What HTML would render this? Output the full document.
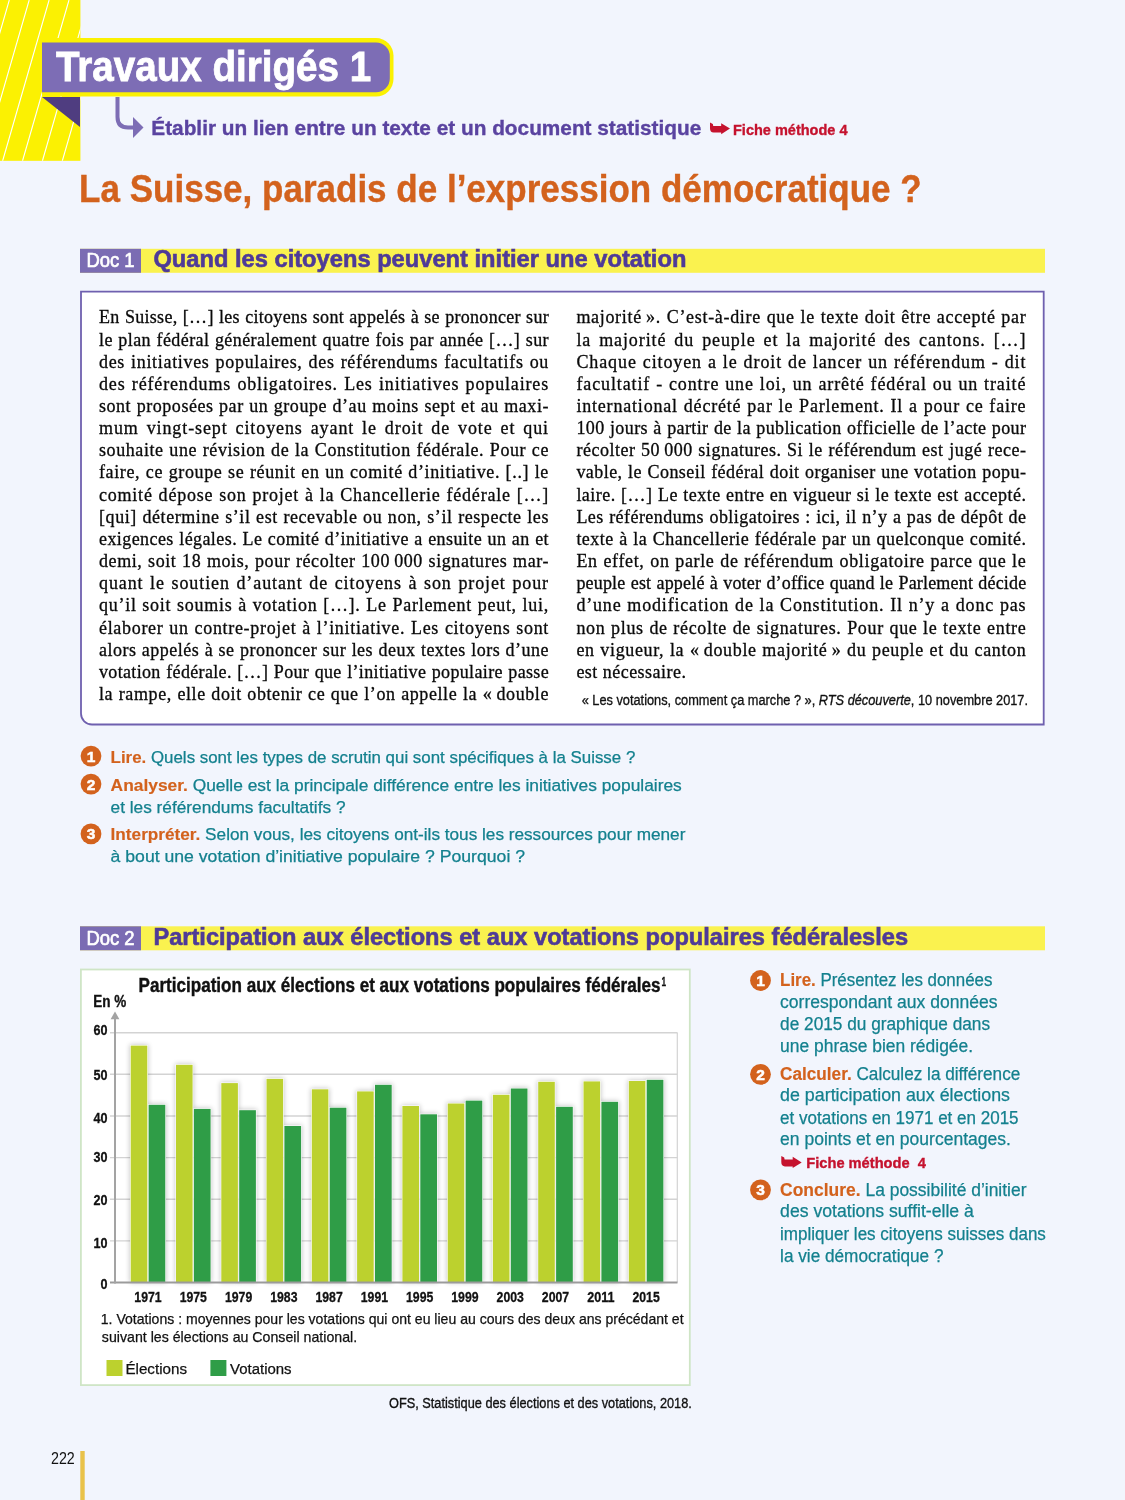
<!DOCTYPE html>
<html lang="fr">
<head>
<meta charset="utf-8">
<title>Travaux dirigés 1 – La Suisse, paradis de l’expression démocratique ?</title>
<style>
*{margin:0;padding:0;box-sizing:border-box}
html,body{width:1125px;height:1500px;overflow:hidden}
body{background:#f2f5fd;position:relative;font-family:"Liberation Sans",sans-serif;color:#111}
svg.page{position:absolute;left:0;top:0}
svg.page{font-family:"Liberation Sans",sans-serif}
.col{position:absolute;top:306.4px;width:450px;font:18px/22.16px "Liberation Serif",serif;color:#0a0a0a;-webkit-text-stroke:0.3px #0a0a0a}
.col div{text-align:justify;text-align-last:justify;white-space:nowrap;height:22.16px}
.col div.l{text-align-last:left}
</style>
</head>
<body>
<svg class="page" width="1125" height="1500" viewBox="0 0 1125 1500">
<rect x="0" y="0" width="80.4" height="160.8" fill="#fbf102"/><clipPath id="yc"><rect x="0" y="0" width="80.4" height="160.8"/></clipPath><g clip-path="url(#yc)" stroke="#fff" stroke-width="1.1"><line x1="-57.1" y1="161" x2="-10.6" y2="0"/><line x1="-37.2" y1="161" x2="9.3" y2="0"/><line x1="-17.3" y1="161" x2="29.2" y2="0"/><line x1="2.6" y1="161" x2="49.1" y2="0"/><line x1="22.5" y1="161" x2="69.0" y2="0"/><line x1="42.4" y1="161" x2="88.9" y2="0"/><line x1="62.3" y1="161" x2="108.8" y2="0"/><line x1="82.2" y1="161" x2="128.7" y2="0"/></g><path d="M42,38.1 H376 A17.5,17.5 0 0 1 393.5,55.6 V79.1 A17.5,17.5 0 0 1 376,96.6 H42 Z" fill="#fbf102"/><path d="M42,42.4 H376 A13.8,13.8 0 0 1 389.8,56.2 V78.4 A13.8,13.8 0 0 1 376,92.2 H42 Z" fill="#7d6db5"/><text x="55.9" y="81.2" font-size="42.2" fill="#fff" font-weight="bold" textLength="315.3" lengthAdjust="spacingAndGlyphs" stroke="#fff" stroke-width="0.8">Travaux dirigés 1</text>
<polygon points="42,97 80,97 80,127" fill="#4f3d80"/><path d="M117.5,97 V117 Q117.5,127.5 128,127.5 H134" stroke="#7d6db5" stroke-width="4" fill="none"/><polygon points="133,117 143.5,127.5 133,138" fill="#7d6db5"/><text x="151.3" y="134.7" font-size="19.8" fill="#5a43a0" font-weight="bold" textLength="550" lengthAdjust="spacingAndGlyphs" stroke="#5a43a0" stroke-width="0.35">Établir un lien entre un texte et un document statistique</text>
<path transform="translate(710,122.4) scale(0.98,0.97)" d="M0,0 L2.9,1.6 L3.3,3.6 H11.4 V0.8 L20.4,6.4 L11.4,12.1 V10.4 H3.7 Q0,10.4 0,6 Z" fill="#c5122e"/><text x="733" y="134.9" font-size="15" fill="#c5122e" font-weight="bold" textLength="114.5" lengthAdjust="spacingAndGlyphs" stroke="#c5122e" stroke-width="0.35">Fiche méthode 4</text>
<text x="79.1" y="201.9" font-size="39" fill="#d3621d" font-weight="bold" textLength="842.6" lengthAdjust="spacingAndGlyphs" stroke="#d3621d" stroke-width="0.4">La Suisse, paradis de l’expression démocratique ?</text>
<rect x="80" y="248.8" width="965" height="24" fill="#faf24f"/><rect x="80" y="248.8" width="61" height="24" fill="#7b6cb3"/><text x="86.4" y="267.3" font-size="21" fill="#fff" textLength="48.2" lengthAdjust="spacingAndGlyphs" stroke="#fff" stroke-width="0.7" stroke-linejoin="round">Doc 1</text>
<text x="153.4" y="266.7" font-size="23.8" fill="#4e3a98" font-weight="bold" textLength="533" lengthAdjust="spacingAndGlyphs" stroke="#4e3a98" stroke-width="0.6">Quand les citoyens peuvent initier une votation</text>
<rect x="80" y="926.3" width="965" height="24" fill="#faf24f"/><rect x="80" y="926.3" width="61" height="24" fill="#7b6cb3"/><text x="86.4" y="945.3000000000001" font-size="21" fill="#fff" textLength="48.2" lengthAdjust="spacingAndGlyphs" stroke="#fff" stroke-width="0.7" stroke-linejoin="round">Doc 2</text>
<text x="153.4" y="944.7" font-size="23.8" fill="#4e3a98" font-weight="bold" textLength="754.7" lengthAdjust="spacingAndGlyphs" stroke="#4e3a98" stroke-width="0.6">Participation aux élections et aux votations populaires fédéralesles</text>
<path d="M81,291.6 H1043.7 V724.5 H92 A11,11 0 0 1 81,713.5 Z" fill="#fff" stroke="#6f60af" stroke-width="1.8"/><circle cx="91" cy="756.1" r="10.4" fill="#d3621d"/><text x="91" y="761.5" font-size="15.5" fill="#fff" font-weight="bold" text-anchor="middle" stroke="#fff" stroke-width="0.5">1</text>
<text x="110.6" y="762.8" font-size="16.8" fill="#13808e" textLength="524.7" lengthAdjust="spacingAndGlyphs" stroke="#13808e" stroke-width="0.25"><tspan fill="#d3621d" stroke="#d3621d" stroke-width="0.15" font-weight="bold">Lire.</tspan> Quels sont les types de scrutin qui sont spécifiques à la Suisse ?</text>
<circle cx="91" cy="784.1" r="10.4" fill="#d3621d"/><text x="91" y="789.5" font-size="15.5" fill="#fff" font-weight="bold" text-anchor="middle" stroke="#fff" stroke-width="0.5">2</text>
<text x="110.6" y="790.5" font-size="16.8" fill="#13808e" textLength="571.2" lengthAdjust="spacingAndGlyphs" stroke="#13808e" stroke-width="0.25"><tspan fill="#d3621d" stroke="#d3621d" stroke-width="0.15" font-weight="bold">Analyser.</tspan> Quelle est la principale différence entre les initiatives populaires</text>
<text x="110.6" y="812.5" font-size="16.8" fill="#13808e" textLength="234.9" lengthAdjust="spacingAndGlyphs" stroke="#13808e" stroke-width="0.25">et les référendums facultatifs ?</text>
<circle cx="91" cy="833.9" r="10.4" fill="#d3621d"/><text x="91" y="839.3" font-size="15.5" fill="#fff" font-weight="bold" text-anchor="middle" stroke="#fff" stroke-width="0.5">3</text>
<text x="110.6" y="840.3" font-size="16.8" fill="#13808e" textLength="574.8" lengthAdjust="spacingAndGlyphs" stroke="#13808e" stroke-width="0.25"><tspan fill="#d3621d" stroke="#d3621d" stroke-width="0.15" font-weight="bold">Interpréter.</tspan> Selon vous, les citoyens ont-ils tous les ressources pour mener</text>
<text x="110.6" y="862.3" font-size="16.8" fill="#13808e" textLength="414.4" lengthAdjust="spacingAndGlyphs" stroke="#13808e" stroke-width="0.25">à bout une votation d’initiative populaire ? Pourquoi ?</text>
<circle cx="760.5" cy="980.5" r="10.4" fill="#d3621d"/><text x="760.5" y="985.9" font-size="15.5" fill="#fff" font-weight="bold" text-anchor="middle" stroke="#fff" stroke-width="0.5">1</text>
<text x="780.1" y="986.2" font-size="17.5" fill="#13808e" textLength="212.3" lengthAdjust="spacingAndGlyphs" stroke="#13808e" stroke-width="0.25"><tspan fill="#d3621d" stroke="#d3621d" stroke-width="0.15" font-weight="bold">Lire.</tspan> Présentez les données</text>
<text x="780.1" y="1007.8" font-size="17.5" fill="#13808e" textLength="217.4" lengthAdjust="spacingAndGlyphs" stroke="#13808e" stroke-width="0.25">correspondant aux données</text>
<text x="780.1" y="1029.7" font-size="17.5" fill="#13808e" textLength="210.0" lengthAdjust="spacingAndGlyphs" stroke="#13808e" stroke-width="0.25">de 2015 du graphique dans</text>
<text x="780.1" y="1051.6" font-size="17.5" fill="#13808e" textLength="193.0" lengthAdjust="spacingAndGlyphs" stroke="#13808e" stroke-width="0.25">une phrase bien rédigée.</text>
<circle cx="760.5" cy="1074.3" r="10.4" fill="#d3621d"/><text x="760.5" y="1079.7" font-size="15.5" fill="#fff" font-weight="bold" text-anchor="middle" stroke="#fff" stroke-width="0.5">2</text>
<text x="780.1" y="1079.5" font-size="17.5" fill="#13808e" textLength="240.2" lengthAdjust="spacingAndGlyphs" stroke="#13808e" stroke-width="0.25"><tspan fill="#d3621d" stroke="#d3621d" stroke-width="0.15" font-weight="bold">Calculer.</tspan> Calculez la différence</text>
<text x="780.1" y="1101.4" font-size="17.5" fill="#13808e" textLength="229.9" lengthAdjust="spacingAndGlyphs" stroke="#13808e" stroke-width="0.25">de participation aux élections</text>
<text x="780.1" y="1123.5" font-size="17.5" fill="#13808e" textLength="238.5" lengthAdjust="spacingAndGlyphs" stroke="#13808e" stroke-width="0.25">et votations en 1971 et en 2015</text>
<text x="780.1" y="1145.4" font-size="17.5" fill="#13808e" textLength="230.8" lengthAdjust="spacingAndGlyphs" stroke="#13808e" stroke-width="0.25">en points et en pourcentages.</text>
<path transform="translate(781.3,1156)" d="M0,0 L2.9,1.6 L3.3,3.6 H11.4 V0.8 L20.4,6.4 L11.4,12.1 V10.4 H3.7 Q0,10.4 0,6 Z" fill="#c5122e"/><text x="806.3" y="1168.2" font-size="15" fill="#c5122e" font-weight="bold" textLength="119.6" lengthAdjust="spacingAndGlyphs" style="white-space:pre" stroke="#c5122e" stroke-width="0.35">Fiche méthode  4</text>
<circle cx="760.5" cy="1189.8" r="10.4" fill="#d3621d"/><text x="760.5" y="1195.2" font-size="15.5" fill="#fff" font-weight="bold" text-anchor="middle" stroke="#fff" stroke-width="0.5">3</text>
<text x="780.1" y="1195.5" font-size="17.5" fill="#13808e" textLength="246.4" lengthAdjust="spacingAndGlyphs" stroke="#13808e" stroke-width="0.25"><tspan fill="#d3621d" stroke="#d3621d" stroke-width="0.15" font-weight="bold">Conclure.</tspan> La possibilité d’initier</text>
<text x="780.1" y="1217.4" font-size="17.5" fill="#13808e" textLength="193.8" lengthAdjust="spacingAndGlyphs" stroke="#13808e" stroke-width="0.25">des votations suffit-elle à</text>
<text x="780.1" y="1240.1" font-size="17.5" fill="#13808e" textLength="265.8" lengthAdjust="spacingAndGlyphs" stroke="#13808e" stroke-width="0.25">impliquer les citoyens suisses dans</text>
<text x="780.1" y="1262" font-size="17.5" fill="#13808e" textLength="163.4" lengthAdjust="spacingAndGlyphs" stroke="#13808e" stroke-width="0.25">la vie démocratique ?</text>
<rect x="80.9" y="969.5" width="608.9" height="415.6" fill="#fff" stroke="#cfe5c6" stroke-width="1.8"/><text x="138.5" y="992.3" font-size="19.5" fill="#111" font-weight="bold" textLength="522" lengthAdjust="spacingAndGlyphs" stroke="#111" stroke-width="0.4">Participation aux élections et aux votations populaires fédérales</text>
<text x="661.6" y="986.3" font-size="13" fill="#111" font-weight="bold" textLength="4.6" lengthAdjust="spacingAndGlyphs" stroke="#111" stroke-width="0.3">1</text>
<text x="93.3" y="1006.9" font-size="16.5" fill="#111" font-weight="bold" textLength="33" lengthAdjust="spacingAndGlyphs" stroke="#111" stroke-width="0.35">En %</text>
<line x1="110" y1="1240.9" x2="677.5" y2="1240.9" stroke="#d3d3d3" stroke-width="1.4"/><line x1="110" y1="1199.3" x2="677.5" y2="1199.3" stroke="#d3d3d3" stroke-width="1.4"/><line x1="110" y1="1157.6" x2="677.5" y2="1157.6" stroke="#d3d3d3" stroke-width="1.4"/><line x1="110" y1="1116.0" x2="677.5" y2="1116.0" stroke="#d3d3d3" stroke-width="1.4"/><line x1="110" y1="1074.3" x2="677.5" y2="1074.3" stroke="#d3d3d3" stroke-width="1.4"/><line x1="110" y1="1032.7" x2="677.5" y2="1032.7" stroke="#d3d3d3" stroke-width="1.4"/><line x1="677.3" y1="1032.7" x2="677.3" y2="1282.6" stroke="#d3d3d3" stroke-width="1.2"/><filter id="sh" x="-30%" y="-10%" width="160%" height="120%"><feGaussianBlur stdDeviation="2.6"/></filter><rect x="129.7" y="1044.6" width="18.6" height="238.0" fill="#000" opacity="0.22" filter="url(#sh)"/><rect x="147.6" y="1103.8" width="18.7" height="178.8" fill="#000" opacity="0.22" filter="url(#sh)"/><rect x="175.0" y="1063.8" width="18.6" height="218.8" fill="#000" opacity="0.22" filter="url(#sh)"/><rect x="192.9" y="1107.9" width="18.7" height="174.7" fill="#000" opacity="0.22" filter="url(#sh)"/><rect x="220.3" y="1082.1" width="18.6" height="200.5" fill="#000" opacity="0.22" filter="url(#sh)"/><rect x="238.2" y="1109.2" width="18.7" height="173.4" fill="#000" opacity="0.22" filter="url(#sh)"/><rect x="265.5" y="1077.9" width="18.6" height="204.7" fill="#000" opacity="0.22" filter="url(#sh)"/><rect x="283.4" y="1125.0" width="18.7" height="157.6" fill="#000" opacity="0.22" filter="url(#sh)"/><rect x="310.8" y="1088.3" width="18.6" height="194.3" fill="#000" opacity="0.22" filter="url(#sh)"/><rect x="328.7" y="1106.7" width="18.7" height="175.9" fill="#000" opacity="0.22" filter="url(#sh)"/><rect x="356.1" y="1090.4" width="18.6" height="192.2" fill="#000" opacity="0.22" filter="url(#sh)"/><rect x="374.0" y="1083.8" width="18.7" height="198.8" fill="#000" opacity="0.22" filter="url(#sh)"/><rect x="401.4" y="1105.0" width="18.6" height="177.6" fill="#000" opacity="0.22" filter="url(#sh)"/><rect x="419.3" y="1113.3" width="18.7" height="169.3" fill="#000" opacity="0.22" filter="url(#sh)"/><rect x="446.7" y="1102.5" width="18.6" height="180.1" fill="#000" opacity="0.22" filter="url(#sh)"/><rect x="464.6" y="1099.6" width="18.7" height="183.0" fill="#000" opacity="0.22" filter="url(#sh)"/><rect x="491.9" y="1093.8" width="18.6" height="188.8" fill="#000" opacity="0.22" filter="url(#sh)"/><rect x="509.8" y="1087.5" width="18.7" height="195.1" fill="#000" opacity="0.22" filter="url(#sh)"/><rect x="537.2" y="1080.8" width="18.6" height="201.8" fill="#000" opacity="0.22" filter="url(#sh)"/><rect x="555.1" y="1105.8" width="18.7" height="176.8" fill="#000" opacity="0.22" filter="url(#sh)"/><rect x="582.5" y="1080.4" width="18.6" height="202.2" fill="#000" opacity="0.22" filter="url(#sh)"/><rect x="600.4" y="1100.8" width="18.7" height="181.8" fill="#000" opacity="0.22" filter="url(#sh)"/><rect x="627.8" y="1080.0" width="18.6" height="202.6" fill="#000" opacity="0.22" filter="url(#sh)"/><rect x="645.7" y="1078.8" width="18.7" height="203.8" fill="#000" opacity="0.22" filter="url(#sh)"/><rect x="130.1" y="1045.0" width="17.8" height="237.6" fill="#fff"/><rect x="148.0" y="1104.2" width="17.9" height="178.4" fill="#fff"/><rect x="130.7" y="1045.6" width="16.6" height="237.0" fill="#bcd12e"/><rect x="148.6" y="1104.8" width="16.7" height="177.8" fill="#2f9d47"/><text x="148.0" y="1301.5" font-size="14.8" fill="#111" font-weight="bold" textLength="27.3" lengthAdjust="spacingAndGlyphs" text-anchor="middle" stroke="#111" stroke-width="0.3">1971</text>
<rect x="175.4" y="1064.2" width="17.8" height="218.4" fill="#fff"/><rect x="193.3" y="1108.3" width="17.9" height="174.3" fill="#fff"/><rect x="176.0" y="1064.8" width="16.6" height="217.8" fill="#bcd12e"/><rect x="193.9" y="1108.9" width="16.7" height="173.7" fill="#2f9d47"/><text x="193.28" y="1301.5" font-size="14.8" fill="#111" font-weight="bold" textLength="27.3" lengthAdjust="spacingAndGlyphs" text-anchor="middle" stroke="#111" stroke-width="0.3">1975</text>
<rect x="220.7" y="1082.5" width="17.8" height="200.1" fill="#fff"/><rect x="238.6" y="1109.6" width="17.9" height="173.0" fill="#fff"/><rect x="221.3" y="1083.1" width="16.6" height="199.5" fill="#bcd12e"/><rect x="239.2" y="1110.2" width="16.7" height="172.4" fill="#2f9d47"/><text x="238.56" y="1301.5" font-size="14.8" fill="#111" font-weight="bold" textLength="27.3" lengthAdjust="spacingAndGlyphs" text-anchor="middle" stroke="#111" stroke-width="0.3">1979</text>
<rect x="265.9" y="1078.3" width="17.8" height="204.3" fill="#fff"/><rect x="283.8" y="1125.4" width="17.9" height="157.2" fill="#fff"/><rect x="266.5" y="1078.9" width="16.6" height="203.7" fill="#bcd12e"/><rect x="284.4" y="1126.0" width="16.7" height="156.6" fill="#2f9d47"/><text x="283.84" y="1301.5" font-size="14.8" fill="#111" font-weight="bold" textLength="27.3" lengthAdjust="spacingAndGlyphs" text-anchor="middle" stroke="#111" stroke-width="0.3">1983</text>
<rect x="311.2" y="1088.7" width="17.8" height="193.9" fill="#fff"/><rect x="329.1" y="1107.1" width="17.9" height="175.5" fill="#fff"/><rect x="311.8" y="1089.3" width="16.6" height="193.3" fill="#bcd12e"/><rect x="329.7" y="1107.7" width="16.7" height="174.9" fill="#2f9d47"/><text x="329.12" y="1301.5" font-size="14.8" fill="#111" font-weight="bold" textLength="27.3" lengthAdjust="spacingAndGlyphs" text-anchor="middle" stroke="#111" stroke-width="0.3">1987</text>
<rect x="356.5" y="1090.8" width="17.8" height="191.8" fill="#fff"/><rect x="374.4" y="1084.2" width="17.9" height="198.4" fill="#fff"/><rect x="357.1" y="1091.4" width="16.6" height="191.2" fill="#bcd12e"/><rect x="375.0" y="1084.8" width="16.7" height="197.8" fill="#2f9d47"/><text x="374.40000000000003" y="1301.5" font-size="14.8" fill="#111" font-weight="bold" textLength="27.3" lengthAdjust="spacingAndGlyphs" text-anchor="middle" stroke="#111" stroke-width="0.3">1991</text>
<rect x="401.8" y="1105.4" width="17.8" height="177.2" fill="#fff"/><rect x="419.7" y="1113.7" width="17.9" height="168.9" fill="#fff"/><rect x="402.4" y="1106.0" width="16.6" height="176.6" fill="#bcd12e"/><rect x="420.3" y="1114.3" width="16.7" height="168.3" fill="#2f9d47"/><text x="419.68" y="1301.5" font-size="14.8" fill="#111" font-weight="bold" textLength="27.3" lengthAdjust="spacingAndGlyphs" text-anchor="middle" stroke="#111" stroke-width="0.3">1995</text>
<rect x="447.1" y="1102.9" width="17.8" height="179.7" fill="#fff"/><rect x="465.0" y="1100.0" width="17.9" height="182.6" fill="#fff"/><rect x="447.7" y="1103.5" width="16.6" height="179.1" fill="#bcd12e"/><rect x="465.6" y="1100.6" width="16.7" height="182.0" fill="#2f9d47"/><text x="464.96000000000004" y="1301.5" font-size="14.8" fill="#111" font-weight="bold" textLength="27.3" lengthAdjust="spacingAndGlyphs" text-anchor="middle" stroke="#111" stroke-width="0.3">1999</text>
<rect x="492.3" y="1094.2" width="17.8" height="188.4" fill="#fff"/><rect x="510.2" y="1087.9" width="17.9" height="194.7" fill="#fff"/><rect x="492.9" y="1094.8" width="16.6" height="187.8" fill="#bcd12e"/><rect x="510.8" y="1088.5" width="16.7" height="194.1" fill="#2f9d47"/><text x="510.24" y="1301.5" font-size="14.8" fill="#111" font-weight="bold" textLength="27.3" lengthAdjust="spacingAndGlyphs" text-anchor="middle" stroke="#111" stroke-width="0.3">2003</text>
<rect x="537.6" y="1081.2" width="17.8" height="201.4" fill="#fff"/><rect x="555.5" y="1106.2" width="17.9" height="176.4" fill="#fff"/><rect x="538.2" y="1081.8" width="16.6" height="200.8" fill="#bcd12e"/><rect x="556.1" y="1106.8" width="16.7" height="175.8" fill="#2f9d47"/><text x="555.52" y="1301.5" font-size="14.8" fill="#111" font-weight="bold" textLength="27.3" lengthAdjust="spacingAndGlyphs" text-anchor="middle" stroke="#111" stroke-width="0.3">2007</text>
<rect x="582.9" y="1080.8" width="17.8" height="201.8" fill="#fff"/><rect x="600.8" y="1101.2" width="17.9" height="181.4" fill="#fff"/><rect x="583.5" y="1081.4" width="16.6" height="201.2" fill="#bcd12e"/><rect x="601.4" y="1101.8" width="16.7" height="180.8" fill="#2f9d47"/><text x="600.8" y="1301.5" font-size="14.8" fill="#111" font-weight="bold" textLength="27.3" lengthAdjust="spacingAndGlyphs" text-anchor="middle" stroke="#111" stroke-width="0.3">2011</text>
<rect x="628.2" y="1080.4" width="17.8" height="202.2" fill="#fff"/><rect x="646.1" y="1079.2" width="17.9" height="203.4" fill="#fff"/><rect x="628.8" y="1081.0" width="16.6" height="201.6" fill="#bcd12e"/><rect x="646.7" y="1079.8" width="16.7" height="202.8" fill="#2f9d47"/><text x="646.0799999999999" y="1301.5" font-size="14.8" fill="#111" font-weight="bold" textLength="27.3" lengthAdjust="spacingAndGlyphs" text-anchor="middle" stroke="#111" stroke-width="0.3">2015</text>
<line x1="110" y1="1282.6" x2="677.5" y2="1282.6" stroke="#9b9b9b" stroke-width="2"/><line x1="115" y1="1017" x2="115" y2="1283.6" stroke="#a3a3a3" stroke-width="2"/><polygon points="115,1011.5 110.6,1019.2 119.4,1019.2" fill="#a3a3a3"/><text x="107.4" y="1288.8" font-size="15" fill="#111" font-weight="bold" textLength="7" lengthAdjust="spacingAndGlyphs" text-anchor="end" stroke="#111" stroke-width="0.3">0</text>
<text x="107.4" y="1247.7" font-size="15" fill="#111" font-weight="bold" textLength="14" lengthAdjust="spacingAndGlyphs" text-anchor="end" stroke="#111" stroke-width="0.3">10</text>
<text x="107.4" y="1205.1" font-size="15" fill="#111" font-weight="bold" textLength="14" lengthAdjust="spacingAndGlyphs" text-anchor="end" stroke="#111" stroke-width="0.3">20</text>
<text x="107.4" y="1162.4" font-size="15" fill="#111" font-weight="bold" textLength="14" lengthAdjust="spacingAndGlyphs" text-anchor="end" stroke="#111" stroke-width="0.3">30</text>
<text x="107.4" y="1122.8" font-size="15" fill="#111" font-weight="bold" textLength="14" lengthAdjust="spacingAndGlyphs" text-anchor="end" stroke="#111" stroke-width="0.3">40</text>
<text x="107.4" y="1080" font-size="15" fill="#111" font-weight="bold" textLength="14" lengthAdjust="spacingAndGlyphs" text-anchor="end" stroke="#111" stroke-width="0.3">50</text>
<text x="107.4" y="1035.4" font-size="15" fill="#111" font-weight="bold" textLength="14" lengthAdjust="spacingAndGlyphs" text-anchor="end" stroke="#111" stroke-width="0.3">60</text>
<text x="100.8" y="1323.9" font-size="14.8" fill="#111" textLength="582.8" lengthAdjust="spacingAndGlyphs" stroke="#111" stroke-width="0.25">1. Votations : moyennes pour les votations qui ont eu lieu au cours des deux ans précédant et</text>
<text x="101.8" y="1342.1" font-size="14.8" fill="#111" textLength="255.4" lengthAdjust="spacingAndGlyphs" stroke="#111" stroke-width="0.25">suivant les élections au Conseil national.</text>
<rect x="106.5" y="1360" width="16" height="16" fill="#bcd12e"/><text x="125.4" y="1374.4" font-size="15.5" fill="#111" textLength="61.6" lengthAdjust="spacingAndGlyphs" stroke="#111" stroke-width="0.25">Élections</text>
<rect x="210.4" y="1360" width="16" height="16" fill="#2f9d47"/><text x="230" y="1374.4" font-size="15.5" fill="#111" textLength="61.6" lengthAdjust="spacingAndGlyphs" stroke="#111" stroke-width="0.25">Votations</text>
<text x="389" y="1407.6" font-size="15.5" fill="#111" textLength="302.8" lengthAdjust="spacingAndGlyphs" stroke="#111" stroke-width="0.35">OFS, Statistique des élections et des votations, 2018.</text>
<text x="581.7" y="704.8" font-size="15.5" fill="#111" textLength="446.3" lengthAdjust="spacingAndGlyphs" stroke="#111" stroke-width="0.35">« Les votations, comment ça marche ? », <tspan font-style="italic">RTS découverte</tspan>, 10 novembre 2017.</text>
<text x="51" y="1464" font-size="17" fill="#111" textLength="23.8" lengthAdjust="spacingAndGlyphs">222</text>
<rect x="80.3" y="1451" width="4.4" height="49" fill="#e9c24a"/>
</svg>
<div class="col" style="left:99px">
<div style="letter-spacing:0.30px">En Suisse, […] les citoyens sont appelés à se prononcer sur</div>
<div style="letter-spacing:0.43px">le plan fédéral généralement quatre fois par année […] sur</div>
<div style="letter-spacing:0.68px">des initiatives populaires, des référendums facultatifs ou</div>
<div style="letter-spacing:0.84px">des référendums obligatoires. Les initiatives populaires</div>
<div style="letter-spacing:0.54px">sont proposées par un groupe d’au moins sept et au maxi-</div>
<div style="letter-spacing:0.90px">mum vingt-sept citoyens ayant le droit de vote et qui</div>
<div style="letter-spacing:0.58px">souhaite une révision de la Constitution fédérale. Pour ce</div>
<div style="letter-spacing:0.63px">faire, ce groupe se réunit en un comité d’initiative. [..] le</div>
<div style="letter-spacing:0.78px">comité dépose son projet à la Chancellerie fédérale […]</div>
<div style="letter-spacing:0.57px">[qui] détermine s’il est recevable ou non, s’il respecte les</div>
<div style="letter-spacing:0.42px">exigences légales. Le comité d’initiative a ensuite un an et</div>
<div style="letter-spacing:0.58px">demi, soit 18 mois, pour récolter 100 000 signatures mar-</div>
<div style="letter-spacing:0.90px">quant le soutien d’autant de citoyens à son projet pour</div>
<div style="letter-spacing:0.72px">qu’il soit soumis à votation […]. Le Parlement peut, lui,</div>
<div style="letter-spacing:0.68px">élaborer un contre-projet à l’initiative. Les citoyens sont</div>
<div style="letter-spacing:0.48px">alors appelés à se prononcer sur les deux textes lors d’une</div>
<div style="letter-spacing:0.34px">votation fédérale. […] Pour que l’initiative populaire passe</div>
<div style="letter-spacing:0.59px">la rampe, elle doit obtenir ce que l’on appelle la « double</div>
</div>
<div class="col" style="left:576.4px">
<div style="letter-spacing:0.68px">majorité ». C’est-à-dire que le texte doit être accepté par</div>
<div style="letter-spacing:0.90px">la majorité du peuple et la majorité des cantons. […]</div>
<div style="letter-spacing:0.90px">Chaque citoyen a le droit de lancer un référendum - dit</div>
<div style="letter-spacing:0.89px">facultatif - contre une loi, un arrêté fédéral ou un traité</div>
<div style="letter-spacing:0.81px">international décrété par le Parlement. Il a pour ce faire</div>
<div style="letter-spacing:0.39px">100 jours à partir de la publication officielle de l’acte pour</div>
<div style="letter-spacing:0.51px">récolter 50 000 signatures. Si le référendum est jugé rece-</div>
<div style="letter-spacing:0.44px">vable, le Conseil fédéral doit organiser une votation popu-</div>
<div style="letter-spacing:0.47px">laire. […] Le texte entre en vigueur si le texte est accepté.</div>
<div style="letter-spacing:0.45px">Les référendums obligatoires : ici, il n’y a pas de dépôt de</div>
<div style="letter-spacing:0.46px">texte à la Chancellerie fédérale par un quelconque comité.</div>
<div style="letter-spacing:0.66px">En effet, on parle de référendum obligatoire parce que le</div>
<div style="letter-spacing:0.18px">peuple est appelé à voter d’office quand le Parlement décide</div>
<div style="letter-spacing:0.82px">d’une modification de la Constitution. Il n’y a donc pas</div>
<div style="letter-spacing:0.67px">non plus de récolte de signatures. Pour que le texte entre</div>
<div style="letter-spacing:0.64px">en vigueur, la « double majorité » du peuple et du canton</div>
<div class="l" style="letter-spacing:0.47px">est nécessaire.</div>
</div>
</body>
</html>
